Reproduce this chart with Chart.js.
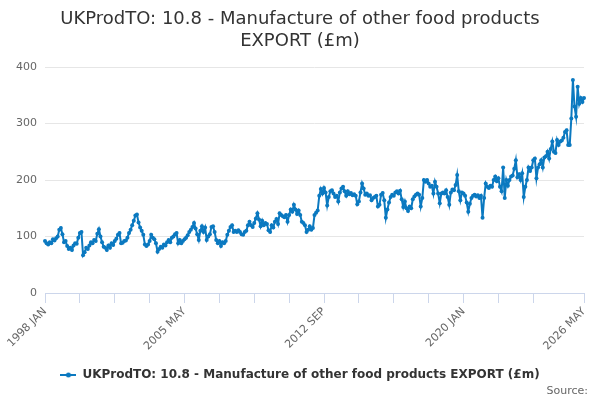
<!DOCTYPE html>
<html><head><meta charset="utf-8">
<script src="https://cdn.jsdelivr.net/npm/chart.js@4.4.1/dist/chart.umd.min.js"></script>
<style>html,body{margin:0;padding:0;background:#fff}#wrap{width:600px;height:400px}</style>
</head><body><div id="wrap"><canvas id="c" width="600" height="400"></canvas></div>
<script>
const titleLines = ['UKProdTO: 10.8 - Manufacture of other food products', 'EXPORT (£m)'];
const seriesName = 'UKProdTO: 10.8 - Manufacture of other food products EXPORT (£m)';
const sourceText = 'Source:';
const monthNames = ['JAN','FEB','MAR','APR','MAY','JUN','JUL','AUG','SEP','OCT','NOV','DEC'];
const startYear = 1998;
const tickLabels = ['1998 JAN', '2005 MAY', '2012 SEP', '2020 JAN', '2026 MAY'];
const yTicks = [0, 100, 200, 300, 400];

// Monthly values, JAN 1998 .. MAY 2026 (£m)
const exportValues = [
  92, 88, 86, 90, 88, 95, 93, 97, 100, 112, 115, 104,      // 1998
  90, 92, 83, 78, 80, 76, 84, 88, 87, 98, 106, 108,        // 1999
  67, 72, 80, 78, 84, 90, 88, 94, 92, 105, 113, 100,       // 2000
  90, 82, 80, 76, 84, 80, 88, 85, 92, 96, 103, 106,        // 2001
  88, 89, 92, 93, 98, 106, 112, 120, 128, 137, 139, 125,   // 2002
  116, 110, 103, 86, 83, 86, 92, 103, 98, 95, 88, 73,      // 2003
  78, 82, 80, 86, 84, 90, 94, 90, 98, 100, 104, 106,       // 2004
  88, 94, 88, 92, 95, 98, 102, 108, 112, 117, 124, 114,    // 2005
  104, 94, 110, 118, 108, 116, 94, 100, 104, 117, 118, 108,// 2006
  94, 88, 92, 83, 90, 88, 92, 103, 110, 117, 120, 108,     // 2007
  110, 108, 111, 108, 104, 103, 108, 110, 120, 126, 120, 117, // 2008
  124, 132, 141, 130, 118, 128, 120, 124, 122, 111, 108, 120, // 2009
  116, 126, 131, 122, 141, 138, 136, 134, 138, 126, 138, 148, // 2010
  144, 156, 148, 140, 146, 138, 126, 124, 120, 108, 112, 118, // 2011
  112, 115, 138, 142, 146, 172, 184, 176, 186, 178, 155, 170, // 2012
  180, 182, 176, 170, 172, 162, 178, 185, 188, 180, 172, 180, // 2013
  175, 177, 173, 175, 172, 157, 162, 178, 194, 185, 174, 176, // 2014
  172, 173, 164, 168, 170, 172, 153, 156, 174, 177, 164, 133, // 2015
  148, 160, 170, 174, 172, 178, 180, 176, 181, 166, 152, 162, // 2016
  150, 145, 153, 150, 166, 171, 174, 176, 174, 153, 168, 200, // 2017
  197, 200, 194, 188, 190, 176, 197, 188, 176, 159, 176, 178, // 2018
  176, 182, 170, 156, 178, 183, 182, 191, 209, 180, 164, 178, // 2019
  176, 172, 160, 144, 158, 168, 172, 174, 171, 173, 168, 172, // 2020
  133, 168, 194, 188, 186, 190, 188, 200, 206, 198, 203, 188, // 2021
  180, 222, 168, 200, 190, 200, 206, 208, 220, 235, 205, 210, // 2022
  200, 212, 170, 188, 200, 222, 216, 222, 235, 238, 203, 222, // 2023
  228, 235, 222, 240, 242, 250, 238, 255, 268, 250, 248, 271, // 2024
  262, 268, 270, 275, 285, 288, 262, 262, 309, 377, 330, 312, // 2025
  365, 335, 345, 338, 345                                     // 2026
];

const categories = exportValues.map((v, i) => (startYear + Math.floor(i / 12)) + ' ' + monthNames[i % 12]);
const lastIndex = categories.length - 1;

const lineColor = '#0b79c0';
const fontFamily = '"DejaVu Sans", "Liberation Sans", sans-serif';
Chart.defaults.font.family = fontFamily;

const marker = document.createElement('canvas');
marker.width = 16; marker.height = 10;
(function(){
  const m = marker.getContext('2d');
  m.strokeStyle = lineColor; m.lineWidth = 2;
  m.beginPath(); m.moveTo(0, 5); m.lineTo(16, 5); m.stroke();
  m.fillStyle = lineColor; m.beginPath(); m.arc(8, 5, 2.5, 0, Math.PI * 2); m.fill();
})();

const sourcePlugin = {
  id: 'sourceNote',
  afterDraw(chart) {
    const ctx = chart.ctx;
    ctx.save();
    ctx.font = '11px ' + fontFamily;
    ctx.fillStyle = '#666666';
    ctx.textAlign = 'right';
    ctx.textBaseline = 'middle';
    ctx.fillText(sourceText, 588, 391);
    ctx.restore();
  }
};

function isTickMark(i) {
  return (i % 22 === 0 && i < 330) || i === lastIndex;
}

new Chart(document.getElementById('c'), {
  type: 'line',
  data: {
    labels: categories,
    datasets: [{
      label: seriesName,
      data: exportValues,
      borderColor: lineColor,
      backgroundColor: lineColor,
      borderWidth: 2,
      pointRadius: 2,
      pointBorderWidth: 0,
      pointBackgroundColor: lineColor,
      tension: 0,
      fill: false
    }]
  },
  options: {
    responsive: false,
    animation: false,
    layout: { padding: { left: 16, right: 16, top: 0, bottom: 9 } },
    plugins: {
      title: {
        display: true,
        text: titleLines,
        color: '#333333',
        font: { size: 18, weight: 'normal', lineHeight: 1.25 },
        padding: { top: 8, bottom: 14 }
      },
      legend: {
        position: 'bottom',
        labels: {
          usePointStyle: true,
          pointStyleWidth: 16,
          color: '#333333',
          font: { size: 12, weight: 'bold' },
          generateLabels: () => [{
            text: seriesName, fillStyle: lineColor, strokeStyle: lineColor,
            lineWidth: 0, pointStyle: marker, hidden: false, datasetIndex: 0, fontColor: '#333333'
          }]
        }
      },
      tooltip: { enabled: false }
    },
    scales: {
      x: {
        type: 'category',
        offset: false,
        afterFit(scale) { scale.height = 66; },
        border: { display: true, color: '#ccd6eb', width: 1 },
        grid: {
          drawOnChartArea: false,
          drawTicks: true,
          tickLength: 10,
          tickWidth: 1,
          tickColor: ctx => isTickMark(ctx.index) ? '#ccd6eb' : 'rgba(0,0,0,0)'
        },
        ticks: {
          autoSkip: false,
          minRotation: 45,
          maxRotation: 45,
          padding: 2,
          color: '#666666',
          font: { size: 11 },
          callback: function(value, index) {
            const lab = categories[index];
            return tickLabels.includes(lab) ? lab : '';
          }
        }
      },
      y: {
        min: 0,
        max: 400,
        afterFit(scale) { scale.width = 29; },
        afterBuildTicks(scale) { scale.ticks = yTicks.map(v => ({ value: v })); },
        border: { display: false },
        grid: { color: '#e6e6e6', drawTicks: false, lineWidth: 1 },
        ticks: { padding: 8, color: '#666666', font: { size: 11 } }
      }
    }
  },
  plugins: [sourcePlugin]
});
</script>
</body></html>
